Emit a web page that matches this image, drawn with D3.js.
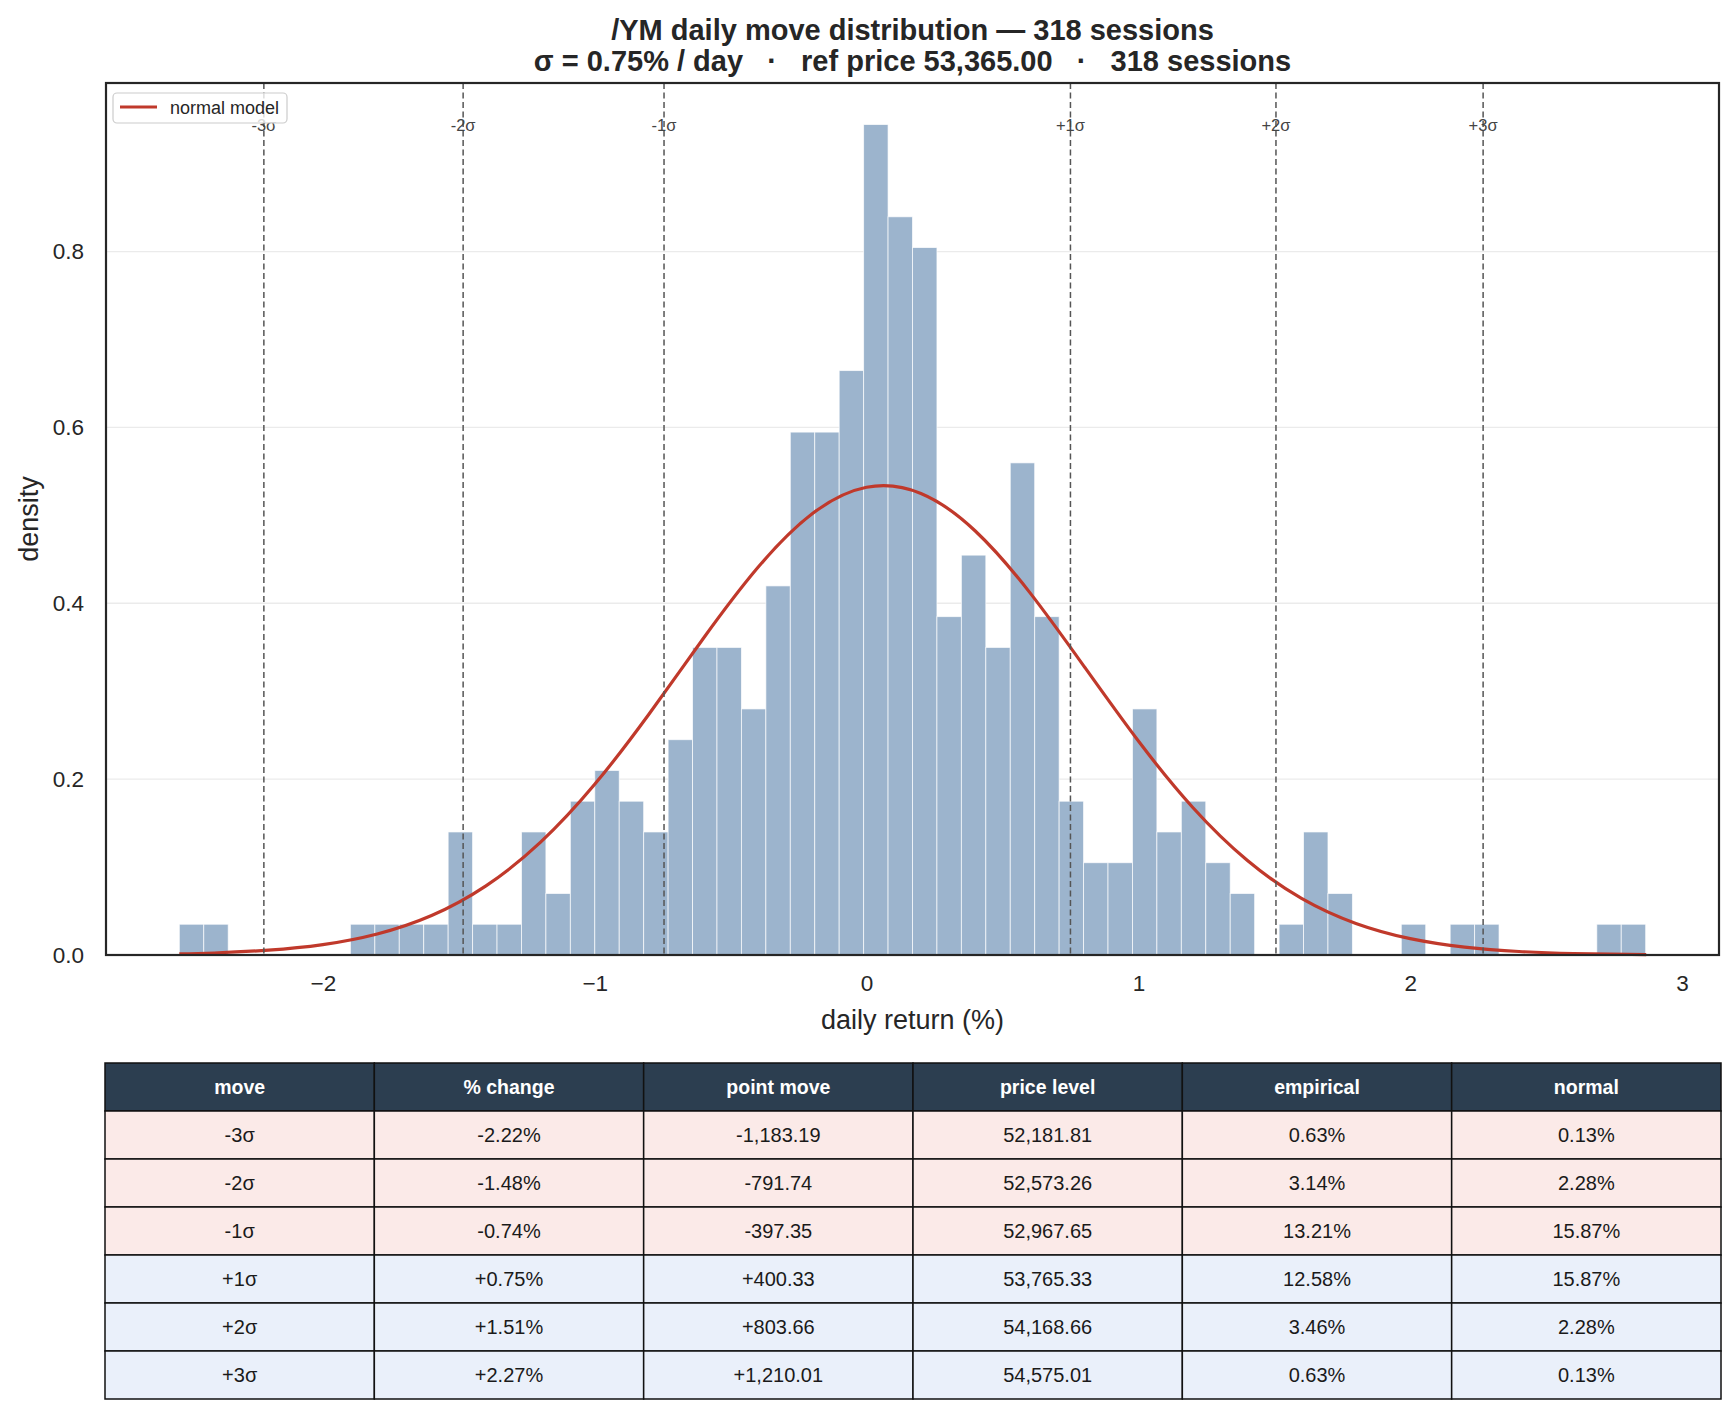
<!DOCTYPE html>
<html lang="en">
<head>
    <meta charset="UTF-8">
    <title>/YM daily move distribution</title>
    <script src="https://d3js.org/d3.v7.min.js"></script>
    <style>
        body { margin: 0; background: #fff; }
        svg { display: block; font-family: "Liberation Sans", Arial, sans-serif; }
        .tick text { fill: #262626; }
        .grid line { stroke: #ebebeb; stroke-width: 1.3px; }
        .sigma-line { stroke: #555; stroke-width: 1.5px; stroke-dasharray: 6,3.5; }
        .sigma-label { fill: #444; font-size: 16.5px; }
        .cell-text { font-size: 20px; fill: #1a1a1a; }
        .head-text { font-size: 19.5px; fill: #fff; font-weight: bold; }
    </style>
</head>
<body>
    <svg width="1735" height="1414"></svg>

    <script>
        // histogram: counts per bin
        const binStart = -2.528;
        const binWidth = 0.0899;
        const sessions = 318;
        const binCounts = [1, 1, 0, 0, 0, 0, 0, 1, 1, 1,
                           1, 4, 1, 1, 4, 2, 5, 6, 5, 4,
                           7, 10, 10, 8, 12, 17, 17, 19, 27, 24,
                           23, 11, 13, 10, 16, 11, 5, 3, 3, 8,
                           4, 5, 3, 2, 0, 1, 4, 2, 0, 0,
                           1, 0, 1, 1, 0, 0, 0, 0, 1, 1];

        // normal model curve, density read at these returns
        const curveX = [-2.528, -2.4, -2.2, -2.0, -1.8, -1.6, -1.4, -1.2, -1.0, -0.8,
                        -0.6, -0.4, -0.2, 0.0, 0.2, 0.4, 0.6, 0.8, 1.0, 1.2,
                        1.4, 1.6, 1.8, 2.0, 2.2, 2.4, 2.6, 2.868];
        const curveY = [0.0013, 0.0023, 0.0055, 0.0118, 0.0239, 0.0449, 0.0786, 0.1280, 0.1941, 0.2741,
                        0.3602, 0.4406, 0.5018, 0.5319, 0.5249, 0.4822, 0.4124, 0.3283, 0.2433, 0.1678,
                        0.1078, 0.0644, 0.0359, 0.0186, 0.0090, 0.0040, 0.0017, 0.0005];

        // sigma marker lines
        const sigmaLabels = ["-3σ", "-2σ", "-1σ", "+1σ", "+2σ", "+3σ"];
        const sigmaPos = [-2.217, -1.484, -0.745, 0.750, 1.506, 2.268];

        const xTicks = [-2, -1, 0, 1, 2, 3];
        const yTicks = [0.0, 0.2, 0.4, 0.6, 0.8];

        // table
        const tableHeader = ["move", "% change", "point move", "price level", "empirical", "normal"];
        const pctChange = ["-2.22%", "-1.48%", "-0.74%", "+0.75%", "+1.51%", "+2.27%"];
        const pointMove = ["-1,183.19", "-791.74", "-397.35", "+400.33", "+803.66", "+1,210.01"];
        const priceLevel = ["52,181.81", "52,573.26", "52,967.65", "53,765.33", "54,168.66", "54,575.01"];
        const empirical = ["0.63%", "3.14%", "13.21%", "12.58%", "3.46%", "0.63%"];
        const normalProb = ["0.13%", "2.28%", "15.87%", "15.87%", "2.28%", "0.13%"];

        const svg = d3.select("svg");
        const plot = { left: 106, right: 1719, top: 83, bottom: 955 };

        const bins = binCounts.map((c, i) => ({
            x0: binStart + i * binWidth,
            x1: binStart + (i + 1) * binWidth,
            d: c / (sessions * binWidth)
        }));

        const dataMin = binStart, dataMax = binStart + binCounts.length * binWidth;
        const pad = (dataMax - dataMin) * 0.05;
        const x = d3.scaleLinear().domain([dataMin - pad, dataMax + pad]).range([plot.left, plot.right]);
        const yMax = d3.max(bins, b => b.d) * 1.05;
        const y = d3.scaleLinear().domain([0, yMax]).range([plot.bottom, plot.top]);

        // grid
        svg.append("g").attr("class", "grid")
            .selectAll("line").data(yTicks.slice(1)).enter().append("line")
            .attr("x1", plot.left).attr("x2", plot.right)
            .attr("y1", d => y(d)).attr("y2", d => y(d));

        // bars
        svg.append("g").selectAll("rect")
            .data(bins.filter(b => b.d > 0)).enter().append("rect")
            .attr("x", b => x(b.x0))
            .attr("width", b => x(b.x1) - x(b.x0))
            .attr("y", b => y(b.d))
            .attr("height", b => y(0) - y(b.d))
            .attr("fill", "#9cb4cd")
            .attr("stroke", "#fff")
            .attr("stroke-opacity", 0.75)
            .attr("stroke-width", 0.9);

        // normal curve
        const line = d3.line().x(d => x(d[0])).y(d => y(d[1])).curve(d3.curveNatural);
        svg.append("path")
            .datum(curveX.map((v, i) => [v, curveY[i]]))
            .attr("d", line)
            .attr("fill", "none")
            .attr("stroke", "#c0392b")
            .attr("stroke-width", 3.2);

        // sigma lines + labels
        const sig = svg.append("g");
        sig.selectAll("line").data(sigmaPos).enter().append("line")
            .attr("class", "sigma-line")
            .attr("x1", d => x(d)).attr("x2", d => x(d))
            .attr("y1", plot.top).attr("y2", plot.bottom);
        sig.selectAll("text").data(sigmaPos).enter().append("text")
            .attr("class", "sigma-label")
            .attr("x", d => x(d)).attr("y", 131)
            .attr("text-anchor", "middle")
            .text((d, i) => sigmaLabels[i]);

        // axes
        const xAxis = svg.append("g")
            .attr("transform", `translate(0,${plot.bottom})`)
            .call(d3.axisBottom(x).tickValues(xTicks).tickSize(0).tickPadding(20)
                .tickFormat(d => d < 0 ? "\u2212" + Math.abs(d) : d));
        xAxis.select(".domain").remove();
        xAxis.selectAll("text").attr("font-size", 22.5).attr("font-family", null);

        const yAxis = svg.append("g")
            .attr("transform", `translate(${plot.left},0)`)
            .call(d3.axisLeft(y).tickValues(yTicks).tickSize(0).tickPadding(22).tickFormat(d3.format(".1f")));
        yAxis.select(".domain").remove();
        yAxis.selectAll("text").attr("font-size", 22.5).attr("font-family", null);

        // frame
        svg.append("rect")
            .attr("x", plot.left).attr("y", plot.top)
            .attr("width", plot.right - plot.left).attr("height", plot.bottom - plot.top)
            .attr("fill", "none").attr("stroke", "#262626").attr("stroke-width", 2.2);

        // axis labels
        svg.append("text")
            .attr("x", (plot.left + plot.right) / 2).attr("y", 1029)
            .attr("text-anchor", "middle").attr("font-size", 27).attr("fill", "#262626")
            .text("daily return (%)");
        svg.append("text")
            .attr("transform", `translate(38,${(plot.top + plot.bottom) / 2}) rotate(-90)`)
            .attr("text-anchor", "middle").attr("font-size", 27).attr("fill", "#262626")
            .text("density");

        // title
        const title = svg.append("text")
            .attr("text-anchor", "middle").attr("font-size", 29).attr("font-weight", "bold").attr("fill", "#262626");
        title.append("tspan").attr("x", (plot.left + plot.right) / 2).attr("y", 40)
            .text("/YM daily move distribution \u2014 318 sessions");
        title.append("tspan").attr("x", (plot.left + plot.right) / 2).attr("y", 71)
            .attr("xml:space", "preserve")
            .text("σ = 0.75% / day   ·   ref price 53,365.00   ·   318 sessions");

        // legend
        const leg = svg.append("g");
        leg.append("rect")
            .attr("x", 113).attr("y", 93).attr("width", 174).attr("height", 30).attr("rx", 4)
            .attr("fill", "#fff").attr("fill-opacity", 0.8)
            .attr("stroke", "#cccccc").attr("stroke-width", 1.2);
        leg.append("line")
            .attr("x1", 120).attr("x2", 157).attr("y1", 107).attr("y2", 107)
            .attr("stroke", "#c0392b").attr("stroke-width", 3);
        leg.append("text")
            .attr("x", 170).attr("y", 114).attr("font-size", 18).attr("fill", "#262626")
            .text("normal model");

        // table
        const rows = sigmaLabels.map((m, i) => [m, pctChange[i], pointMove[i], priceLevel[i], empirical[i], normalProb[i]]);
        const allRows = [tableHeader].concat(rows);
        const colX = d3.scaleBand().domain(d3.range(tableHeader.length)).range([105, 1721]);
        const rowY = d3.scaleBand().domain(d3.range(allRows.length)).range([1063, 1399]);

        const tbl = svg.append("g");
        const tr = tbl.selectAll("g").data(allRows).enter().append("g")
            .attr("transform", (d, i) => `translate(0,${rowY(i)})`);
        tr.each(function (row, ri) {
            const g = d3.select(this);
            const bg = ri === 0 ? "#2c3e50" : (ri <= 3 ? "#fbeae8" : "#eaf0fa");
            g.selectAll("rect").data(row).enter().append("rect")
                .attr("x", (d, ci) => colX(ci)).attr("y", 0)
                .attr("width", colX.bandwidth()).attr("height", rowY.bandwidth())
                .attr("fill", bg).attr("stroke", "#111").attr("stroke-width", 1.5);
            g.selectAll("text").data(row).enter().append("text")
                .attr("class", ri === 0 ? "head-text" : "cell-text")
                .attr("x", (d, ci) => colX(ci) + colX.bandwidth() / 2)
                .attr("y", rowY.bandwidth() / 2 + 7)
                .attr("text-anchor", "middle")
                .text(d => d);
        });
    </script>
</body>
</html>
